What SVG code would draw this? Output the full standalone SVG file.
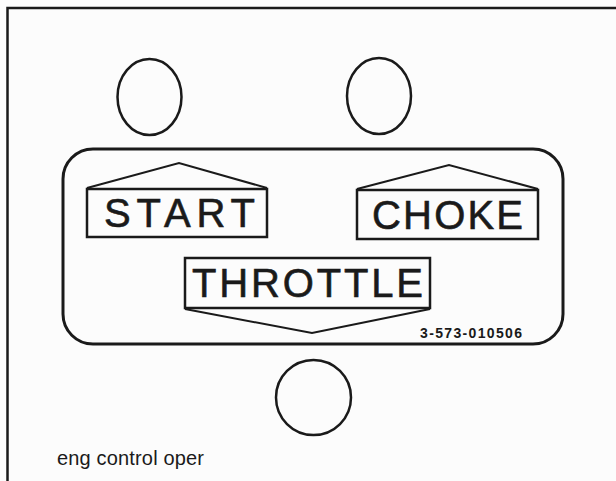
<svg xmlns="http://www.w3.org/2000/svg" width="616" height="481" viewBox="0 0 616 481">
<style>
.ln{fill:none;stroke:#1a1a1a;stroke-linejoin:miter}
.lbl{font-family:"Liberation Sans",Arial,sans-serif;font-size:40px;fill:#1a1a1a;stroke:#1a1a1a;stroke-width:0.6}
</style>
<rect x="0" y="0" width="616" height="481" fill="#fcfcfc"/>
<g id="frame"><polyline class="ln" stroke-width="2.5" points="7.5,481 7.5,8 616,8"/></g>
<g id="knob-start"><ellipse class="ln" stroke-width="2.5" cx="149.5" cy="97" rx="32" ry="38"/></g>
<g id="knob-choke"><ellipse class="ln" stroke-width="2.5" cx="379" cy="96" rx="32" ry="38"/></g>
<g id="knob-throttle"><circle class="ln" stroke-width="2.5" cx="313.5" cy="397.5" r="37.5"/></g>
<g id="panel"><rect class="ln" stroke-width="3" x="63" y="149" width="500" height="195" rx="30" ry="30"/></g>
<g id="start">
<polyline class="ln" stroke-width="2" points="87,188 179,163 267,188"/>
<rect class="ln" stroke-width="2.5" x="87" y="189" width="180" height="48"/>
<text class="lbl" x="104" y="227" textLength="151" lengthAdjust="spacing">START</text>
</g>
<g id="choke">
<polyline class="ln" stroke-width="2" points="357,189 449,165 538,189"/>
<rect class="ln" stroke-width="2.5" x="357" y="190" width="181" height="49"/>
<text class="lbl" x="372" y="229" textLength="151" lengthAdjust="spacing">CHOKE</text>
</g>
<g id="throttle">
<rect class="ln" stroke-width="2.5" x="185" y="258" width="245" height="50"/>
<polyline class="ln" stroke-width="2" points="185,309 312,333 430,309"/>
<text class="lbl" x="192" y="297" textLength="231" lengthAdjust="spacing">THROTTLE</text>
</g>
<g id="code"><text x="420" y="338" font-family="Liberation Sans,Arial,sans-serif" font-size="14" font-weight="bold" fill="#1a1a1a" textLength="102" lengthAdjust="spacing">3-573-010506</text></g>
<g id="caption"><text x="57" y="465" font-family="Liberation Sans,Arial,sans-serif" font-size="20" fill="#1a1a1a" textLength="147" lengthAdjust="spacing">eng control oper</text></g>
<g id="connectors"/>
</svg>
